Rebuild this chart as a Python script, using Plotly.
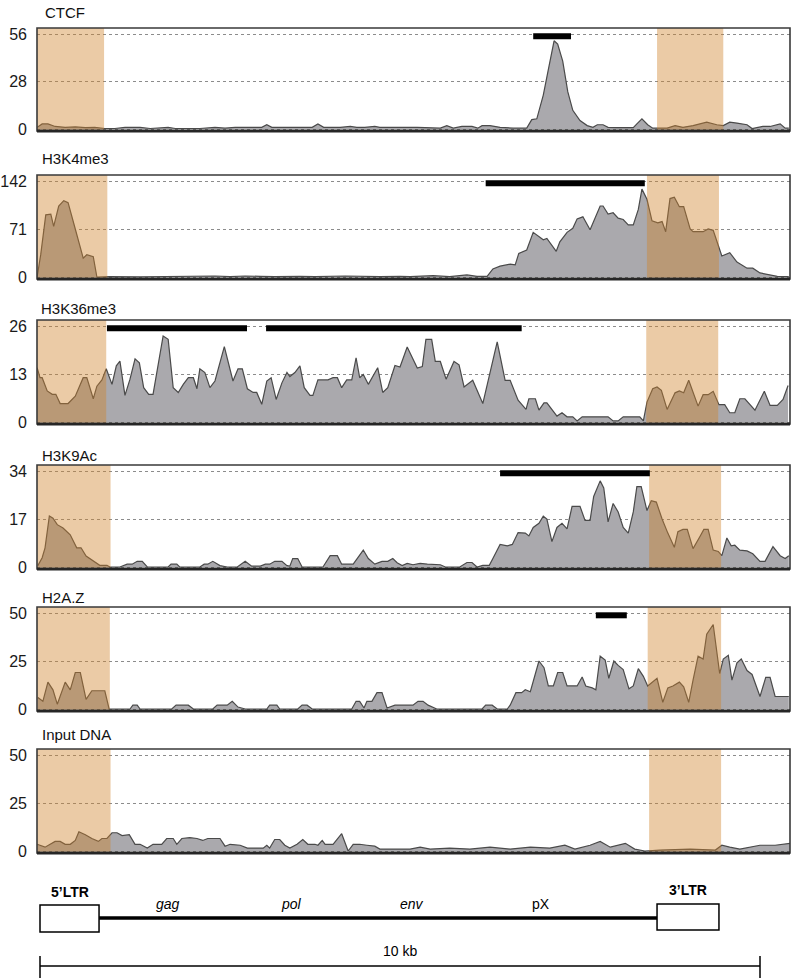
import plotly.graph_objects as go

FONT = "Liberation Sans, Arial, Helvetica, sans-serif"
W, H = 796, 978

# ---------------- data ----------------
track_names = ["CTCF", "H3K4me3", "H3K36me3", "H3K9Ac", "H2A.Z", "Input DNA"]
track_max = [56, 142, 26, 34, 50, 50]
track_ticktext = [["0", "28", "56"], ["0", "71", "142"], ["0", "13", "26"],
                  ["0", "17", "34"], ["0", "25", "50"], ["0", "25", "50"]]

# (position in kb, read count)
ctcf_points = [(-0.04,1),(0.03,3),(0.11,3),(0.21,1.5),(0.35,1),(0.49,1.2),(0.63,0.8),(0.76,1),(0.90,0.3),(1.04,0.3),
    (1.18,1),(1.39,1),(1.53,0.3),(1.67,0.5),(1.78,1),(1.88,0.3),(2.22,0.3),(2.43,1),(2.57,0.5),(2.71,1),
    (2.92,1),(3.08,1),(3.15,2.5),(3.22,1),(3.36,1),(3.50,0.8),(3.61,1),(3.78,1),(3.86,3),(3.94,1),
    (4.17,1),(4.31,1.5),(4.40,1),(4.51,1),(4.65,1.5),(4.72,1),(4.86,1),(5.00,0.8),(5.18,0.6),(5.24,1),
    (5.56,0.5),(5.65,2),(5.74,0.5),(5.86,1.5),(6.00,1.5),(6.08,0.5),(6.14,2),(6.25,2),(6.39,1),(6.57,0.5),
    (6.76,0.5),(6.83,5.5),(6.90,6),(6.99,20),(7.06,35),(7.14,52),(7.19,50),(7.26,40),(7.33,22),(7.40,11),
    (7.50,5),(7.60,2),(7.68,1),(7.74,2.5),(7.82,2.5),(7.89,1),(8.01,0.8),(8.24,0.8),(8.29,3),(8.36,6),
    (8.44,2.5),(8.51,0.5),(8.71,0.5),(8.82,2),(8.93,1),(9.07,2),(9.26,4),(9.40,2.5),(9.49,2),(9.58,4),
    (9.68,3.5),(9.82,2.5),(9.89,0.3),(10.04,1.5),(10.14,1.5),(10.28,3),(10.35,0.5),(10.40,0.5)]

h3k4me3_points = [(-0.04,0),(0.01,33),(0.08,92),(0.15,93),(0.19,75),(0.26,105),(0.33,113),(0.39,110),(0.49,71),
    (0.60,28),(0.65,33),(0.74,30),(0.79,0),(0.97,0.5),(1.39,0.3),(2.22,1),(2.43,1.5),(2.64,0.5),(2.85,1.5),
    (3.06,1),(3.26,0.5),(3.61,1),(3.82,0.5),(4.24,1.5),(4.44,1),(4.72,0.5),(5.00,1),(5.14,0.5),(5.46,2),
    (5.69,0.5),(5.93,3),(6.07,1),(6.21,1),(6.29,12),(6.39,16),(6.53,19),(6.60,18),(6.65,35),(6.76,40),
    (6.85,66),(6.99,55),(7.04,57),(7.17,38),(7.22,52),(7.32,66),(7.40,72),(7.46,86),(7.54,89),(7.64,70),
    (7.68,80),(7.78,105),(7.82,105),(7.89,93),(7.96,95),(8.03,87),(8.10,85),(8.17,77),(8.24,77),(8.31,100),
    (8.36,130),(8.43,115),(8.50,83),(8.58,80),(8.64,82),(8.69,67),(8.75,116),(8.81,118),(8.88,104),(8.94,104),
    (9.03,71),(9.07,67),(9.21,67),(9.28,71),(9.35,69),(9.40,53),(9.47,31),(9.58,36),(9.68,22),(9.82,13),
    (9.90,13),(10.00,6),(10.14,3),(10.24,1),(10.40,0.5)]

h3k36me3_points = [(-0.04,14.7),(0.0,12),(0.03,12),(0.10,8.4),(0.17,7.5),(0.22,7.5),(0.28,5),(0.39,5),(0.49,7),
    (0.60,12),(0.65,12),(0.74,6.3),(0.79,9.7),(0.86,11.4),(0.92,14.4),(1.00,10.2),(1.06,15.2),(1.11,16.5),
    (1.18,7.2),(1.25,11.6),(1.32,17.1),(1.38,16),(1.44,9.3),(1.51,7.5),(1.57,7.5),(1.71,23.3),(1.78,22.4),
    (1.85,9.3),(1.92,8),(1.99,10.2),(2.06,12),(2.13,12),(2.18,9),(2.22,14.4),(2.29,13.4),(2.36,9.3),
    (2.43,11.1),(2.56,20.4),(2.68,11.1),(2.75,14.4),(2.81,14.4),(2.88,9),(2.96,8),(3.01,8),(3.08,4.8),
    (3.15,11.1),(3.21,12),(3.28,6.1),(3.36,10.6),(3.43,13.4),(3.47,12.3),(3.54,13.4),(3.61,15.2),(3.67,9.3),
    (3.75,7.2),(3.79,7.2),(3.86,11.4),(4.00,11.4),(4.07,12),(4.13,12),(4.19,9.3),(4.26,11.4),(4.33,11.4),
    (4.39,17.4),(4.44,12),(4.49,12.9),(4.56,10.2),(4.69,14.7),(4.76,8),(4.83,9.3),(4.93,15.3),(5.00,14.9),
    (5.10,20.3),(5.24,14.6),(5.31,15),(5.36,22.4),(5.44,22.4),(5.49,16.4),(5.56,16.4),(5.64,11.6),(5.75,16.4),
    (5.82,15.5),(5.89,9.5),(6.01,11.3),(6.15,5),(6.35,21.7),(6.46,11.3),(6.53,11.3),(6.64,5.9),(6.75,3.4),
    (6.79,6.3),(6.88,6.3),(6.93,3.2),(7.00,5.2),(7.04,5.2),(7.18,1.6),(7.25,2.5),(7.32,1.4),(7.40,1.4),
    (7.46,0.3),(7.53,1.4),(7.89,1.4),(7.96,0.3),(8.03,0.3),(8.10,1.4),(8.33,1.4),(8.38,0.3),(8.43,5.4),
    (8.51,9),(8.57,9.5),(8.63,8.6),(8.71,3.4),(8.82,7.9),(8.88,8.4),(8.94,7.9),(9.01,11.3),(9.14,4.3),
    (9.21,7.4),(9.28,7.4),(9.35,8.3),(9.43,4.7),(9.51,4.7),(9.58,2.5),(9.65,2.5),(9.72,6.3),(9.79,6.3),
    (9.93,3.2),(10.06,8.3),(10.14,4.5),(10.24,4.5),(10.32,6.1),(10.39,9.9)]

h3k9ac_points = [(-0.03,0.5),(0.03,3.3),(0.07,6.8),(0.13,18.1),(0.18,17.3),(0.24,15),(0.32,13.8),(0.42,11.4),
    (0.51,6.8),(0.57,6.8),(0.64,3.9),(0.74,2.1),(0.83,0.6),(0.93,0.6),(0.97,0),(1.11,0),(1.21,1),(1.28,1),
    (1.35,2),(1.42,2),(1.49,0),(1.78,0),(1.82,1),(1.90,1),(1.94,0),(2.22,0),(2.28,1),(2.33,1),(2.40,2),
    (2.50,0.5),(2.60,0),(2.74,0),(2.85,2),(2.94,0.3),(3.06,0.3),(3.13,1),(3.19,1),(3.26,2),(3.36,2),
    (3.43,0.5),(3.47,0.3),(3.51,3),(3.58,3),(3.64,0),(3.93,0),(4.03,4),(4.13,4),(4.19,1),(4.35,1),(4.49,6),
    (4.56,3),(4.65,1),(4.75,2),(4.83,2),(4.90,3),(4.96,1.5),(5.03,0.5),(5.10,1.3),(5.18,0.8),(5.28,1.3),
    (5.38,1),(5.56,0.8),(5.63,0),(5.83,0),(5.93,1.6),(6.00,1.6),(6.07,0),(6.15,0.6),(6.24,0.6),(6.29,3),
    (6.39,8),(6.49,7.5),(6.56,8),(6.64,12.2),(6.74,12),(6.79,11),(6.85,14),(6.93,15.5),(6.99,18),(7.04,17),
    (7.11,9),(7.18,14),(7.25,15.5),(7.32,13.5),(7.39,21.5),(7.50,21.5),(7.57,16.5),(7.64,16.5),(7.69,25),
    (7.78,30.5),(7.83,28),(7.89,16),(7.96,22.5),(8.03,19.5),(8.10,14),(8.17,12),(8.24,19.5),(8.29,28.5),
    (8.35,28.5),(8.43,20),(8.49,23.5),(8.56,23),(8.64,17),(8.72,12),(8.81,7),(8.86,12.5),(8.93,13.3),
    (8.99,13.3),(9.07,6.5),(9.17,11),(9.22,13.3),(9.28,13.3),(9.35,6),(9.42,5.5),(9.47,4),(9.54,10.3),
    (9.60,7.5),(9.65,7.7),(9.72,6),(9.82,5.7),(9.90,4.7),(10.00,2),(10.07,2),(10.18,7.2),(10.28,4),
    (10.35,3),(10.40,4)]

h2az_points = [(-0.03,6),(0.04,4),(0.11,14),(0.18,10),(0.24,2.5),(0.35,14),(0.42,10),(0.49,19),(0.56,19),
    (0.64,5),(0.72,9.5),(0.90,9.5),(0.96,0),(1.25,0),(1.29,2),(1.35,2),(1.39,0),(1.83,0),(1.89,2),(2.06,2),
    (2.13,0),(2.40,0),(2.46,2),(2.60,2),(2.67,4),(2.75,1),(2.85,0),(3.15,0),(3.19,2),(3.29,2),(3.33,0),
    (3.58,0),(3.64,2),(3.71,2),(3.78,0),(4.33,0),(4.39,4),(4.44,4),(4.50,0.5),(4.54,4),(4.61,4),(4.68,8.5),
    (4.75,8.5),(4.82,0.5),(4.93,2),(5.18,2),(5.25,4),(5.32,4),(5.39,2),(5.46,1),(5.51,0),(6.14,0),(6.19,2),
    (6.28,2),(6.35,0),(6.49,0),(6.53,2),(6.61,8.5),(6.69,8.5),(6.74,10),(6.81,9),(6.93,25),(7.00,21.5),
    (7.06,12),(7.13,12),(7.19,19),(7.26,19),(7.32,12),(7.46,12),(7.53,16.7),(7.58,12),(7.67,11),(7.72,10),
    (7.78,27.5),(7.85,25.5),(7.90,16),(7.97,25),(8.03,22.7),(8.10,20.5),(8.18,10.5),(8.24,12),(8.31,21),
    (8.38,17),(8.44,12),(8.51,14),(8.57,16),(8.65,3.5),(8.72,11),(8.79,12),(8.88,14),(8.94,11.5),(9.01,3.5),
    (9.07,15),(9.14,27.5),(9.21,26),(9.26,39),(9.35,44),(9.40,30),(9.44,18.5),(9.49,26),(9.56,28),(9.61,15),
    (9.68,24),(9.74,26),(9.82,20),(9.89,18),(10.00,6.5),(10.08,16.5),(10.14,16.5),(10.21,6.5),(10.40,6.5)]

input_points = [(-0.04,3.5),(0.07,2),(0.21,5),(0.28,5),(0.35,3.5),(0.42,3.5),(0.49,5.5),(0.54,10),(0.63,8.5),
    (0.72,6.5),(0.81,5),(0.86,6.5),(0.93,6.5),(1.00,9.5),(1.07,9.5),(1.14,8),(1.24,8.5),(1.32,3.5),(1.39,3.5),
    (1.49,1.5),(1.57,3.5),(1.69,3.5),(1.76,6.5),(1.85,6.5),(1.90,3.5),(1.97,6.5),(2.08,7),(2.18,6.5),
    (2.26,5.5),(2.33,6.5),(2.50,6.5),(2.57,2.5),(2.64,3.5),(2.78,3),(2.88,1.5),(3.10,1.5),(3.15,3),(3.19,1.5),
    (3.26,6),(3.33,6),(3.40,3),(3.47,1.5),(3.57,3.5),(3.65,6),(3.72,3.5),(3.82,3.5),(3.86,3),(3.92,5.5),
    (3.96,3.5),(4.07,3.5),(4.19,9),(4.28,0),(4.35,3.5),(4.44,3.5),(4.54,3),(4.65,2.5),(4.72,1),(5.00,1),
    (5.14,1),(5.28,2),(5.42,1),(5.69,1.5),(5.97,1),(6.25,2),(6.53,1),(6.81,2),(7.08,1.5),(7.29,3),(7.43,1),
    (7.64,3),(7.78,5),(7.92,2),(8.13,4),(8.26,1),(8.40,0),(8.61,0.5),(9.03,1),(9.38,0.5),(9.47,3),(9.58,2),
    (9.72,1),(10.00,3),(10.21,3),(10.42,4)]

track_points = [ctcf_points, h3k4me3_points, h3k36me3_points, h3k9ac_points, h2az_points, input_points]

# enriched regions (kb) drawn as black bars
ctcf_bars = [(6.85, 7.375)]
h3k4me3_bars = [(6.19, 8.40)]
h3k36me3_bars = [(0.93, 2.875), (3.14, 6.69)]
h3k9ac_bars = [(6.39, 8.47)]
h2az_bars = [(7.72, 8.15)]
input_bars = []
track_bars = [ctcf_bars, h3k4me3_bars, h3k36me3_bars, h3k9ac_bars, h2az_bars, input_bars]

# LTR shading (kb)
ltr5_end = [0.89, 0.935, 0.92, 0.98, 0.97, 0.98]
ltr3_span = [(8.57, 9.49), (8.43, 9.43), (8.42, 9.42), (8.46, 9.46), (8.44, 9.46), (8.46, 9.46)]

# provirus map (kb)
genome_ltr5 = (0.0, 0.82)
genome_ltr3 = (8.57, 9.43)
gene_labels = ["<i>gag</i>", "<i>pol</i>", "<i>env</i>", "pX"]
gene_pos = [1.78, 3.49, 5.17, 6.96]
scale_bar_kb = (0.0, 10.0)

# ---------------- layout helpers (page pixel positions) ----------------
panel_top = [28, 175, 320, 465, 607, 749]
panel_bottom = [131, 279, 424, 569, 711, 853]
title_y = [13, 159, 309, 455, 597, 734]
title_x = [43, 40, 39, 40, 40, 40]
X_LEFT, X_RIGHT = 37, 790
KB0_PX, PX_PER_KB = 40, 72
xr = [(X_LEFT - KB0_PX) / PX_PER_KB, (X_RIGHT - KB0_PX) / PX_PER_KB]

GRAY = "#aaa9ad"
LINE = "#4a4a4a"
ORANGE = "rgb(207,131,43)"


def px(p):
    return p / W


def py(p):
    return 1 - p / H


fig = go.Figure()
shapes = []
annotations = []
layout_axes = {}

for i, name in enumerate(track_names):
    k = "" if i == 0 else str(i + 1)
    xa, ya = "x" + k, "y" + k
    M = track_max[i]
    top, bot = panel_top[i], panel_bottom[i]
    ppu = (bot - top - 8) / M
    yr = [-2 / ppu, M + 6 / ppu]
    pts = track_points[i]
    fig.add_trace(go.Scatter(
        x=[p[0] for p in pts], y=[p[1] for p in pts], xaxis=xa, yaxis=ya,
        mode="lines", fill="tozeroy", fillcolor=GRAY,
        line=dict(color=LINE, width=1.2), hoverinfo="skip", showlegend=False))
    layout_axes["xaxis" + k] = dict(domain=[px(X_LEFT), px(X_RIGHT)], range=xr, anchor=ya,
                                    showticklabels=False, showgrid=False, zeroline=False,
                                    showline=False, ticks="", fixedrange=True, automargin=False)
    layout_axes["yaxis" + k] = dict(domain=[py(bot), py(top)], range=yr, anchor=xa,
                                    tickvals=[0, M / 2, M], ticktext=track_ticktext[i],
                                    showgrid=True, gridcolor="#8c8c8c", griddash="dot", gridwidth=1,
                                    zeroline=False, showline=False, ticks="",
                                    ticklabelstandoff=9, automargin=False,
                                    tickfont=dict(size=16, family=FONT, color="#1a1a1a"),
                                    fixedrange=True)
    # LTR shading
    shapes.append(dict(type="rect", xref=xa, yref=ya + " domain", x0=xr[0], x1=ltr5_end[i],
                       y0=0, y1=1, fillcolor=ORANGE, opacity=0.42, line=dict(width=0), layer="above"))
    a, b = ltr3_span[i]
    shapes.append(dict(type="rect", xref=xa, yref=ya + " domain", x0=a, x1=b,
                       y0=0, y1=1, fillcolor=ORANGE, opacity=0.42, line=dict(width=0), layer="above"))
    # enriched-region bars
    ybar = M - 2.3 / ppu
    for (a, b) in track_bars[i]:
        shapes.append(dict(type="line", xref=xa, yref=ya, x0=a, x1=b, y0=ybar, y1=ybar,
                           line=dict(color="black", width=6), layer="above"))
    # frame
    shapes.append(dict(type="rect", xref=xa + " domain", yref=ya + " domain", x0=0, x1=1, y0=0, y1=1,
                       line=dict(color="#3a3a3a", width=1.6), layer="above"))
    shapes.append(dict(type="line", xref=xa + " domain", yref=ya + " domain", x0=0, x1=1, y0=0, y1=0,
                       line=dict(color="#262626", width=3), layer="above"))
    annotations.append(dict(text=name, x=px(title_x[i]), y=py(title_y[i]), xref="paper", yref="paper",
                            xanchor="left", yanchor="middle", showarrow=False,
                            font=dict(size=15, family=FONT, color="#111")))

# ---------------- provirus map ----------------
gx = "x6"
shapes.append(dict(type="line", xref=gx, yref="paper", x0=genome_ltr5[1], x1=genome_ltr3[0],
                   y0=py(918), y1=py(918), line=dict(color="black", width=3.5)))
shapes.append(dict(type="rect", xref=gx, yref="paper", x0=genome_ltr5[0], x1=genome_ltr5[1],
                   y0=py(932), y1=py(905), line=dict(color="black", width=1.5), fillcolor="white"))
shapes.append(dict(type="rect", xref=gx, yref="paper", x0=genome_ltr3[0], x1=genome_ltr3[1],
                   y0=py(930), y1=py(904), line=dict(color="black", width=1.5), fillcolor="white"))
annotations.append(dict(text="<b>5’LTR</b>", x=(genome_ltr5[0] + genome_ltr5[1]) / 2, y=py(892),
                        xref=gx, yref="paper", showarrow=False, xanchor="center", yanchor="middle",
                        font=dict(size=14, family=FONT, color="black")))
annotations.append(dict(text="<b>3’LTR</b>", x=(genome_ltr3[0] + genome_ltr3[1]) / 2, y=py(890),
                        xref=gx, yref="paper", showarrow=False, xanchor="center", yanchor="middle",
                        font=dict(size=14, family=FONT, color="black")))
for lab, pos in zip(gene_labels, gene_pos):
    annotations.append(dict(text=lab, x=pos, y=py(904), xref=gx, yref="paper", showarrow=False,
                            xanchor="center", yanchor="middle",
                            font=dict(size=14, family=FONT, color="black")))
# scale bar
shapes.append(dict(type="line", xref=gx, yref="paper", x0=scale_bar_kb[0], x1=scale_bar_kb[1],
                   y0=py(966), y1=py(966), line=dict(color="black", width=1.5)))
for xv in scale_bar_kb:
    shapes.append(dict(type="line", xref=gx, yref="paper", x0=xv, x1=xv,
                       y0=py(978), y1=py(956), line=dict(color="black", width=1.5)))
annotations.append(dict(text="10 kb", x=(scale_bar_kb[0] + scale_bar_kb[1]) / 2, y=py(951),
                        xref=gx, yref="paper", showarrow=False, xanchor="center", yanchor="middle",
                        font=dict(size=14, family=FONT, color="black")))

fig.update_layout(width=W, height=H, margin=dict(l=0, r=0, t=0, b=0, autoexpand=False),
                  paper_bgcolor="white", plot_bgcolor="white",
                  shapes=shapes, annotations=annotations, showlegend=False,
                  font=dict(family=FONT), **layout_axes)

# remove the default page margin so the 796x978 figure fills the window exactly
fig.write_html("out.html", config={"displayModeBar": False, "staticPlot": True},
               post_script="document.body.style.margin='0';")
